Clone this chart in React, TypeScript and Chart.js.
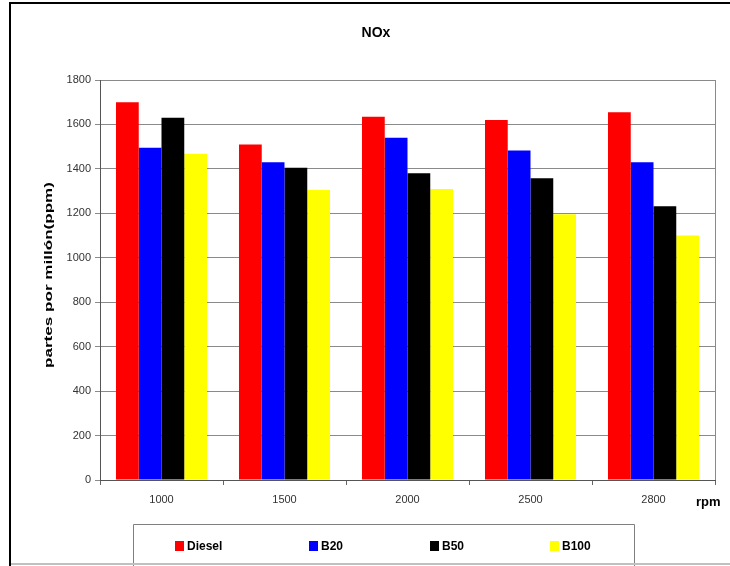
import React, { useEffect, useRef } from "react";
import { Chart, registerables } from "chart.js";

Chart.register(...registerables);

const categories = ["1000", "1500", "2000", "2500", "2800"];
const seriesNames = ["Diesel", "B20", "B50", "B100"];
const diesel = [1700, 1510, 1635, 1620, 1655];
const b20 = [1495, 1430, 1540, 1483, 1430];
const b50 = [1630, 1405, 1380, 1358, 1232];
const b100 = [1468, 1305, 1310, 1196, 1100];
const seriesColors = ["#FF0000", "#0000FF", "#000000", "#FFFF00"];
const yTicksMax = 1800;
const yTickStep = 200;
const chartTitle = "NOx";
const yTitle = "partes por millón(ppm)";
const xTitle = "rpm";

const FONT = "'Liberation Sans', Arial, sans-serif";

const decorPlugin = {
  id: "decor",
  beforeDraw(chart: any) {
    const ctx = chart.ctx;
    ctx.save();
    ctx.fillStyle = "#ffffff";
    ctx.fillRect(0, 0, chart.width, chart.height);
    ctx.restore();
  },
  afterDraw(chart: any) {
    const ctx = chart.ctx;
    const area = chart.chartArea;
    ctx.save();

    // plot right border
    ctx.strokeStyle = "#8a8a8a";
    ctx.lineWidth = 1;
    ctx.beginPath();
    ctx.moveTo(Math.round(area.right) + 0.5, area.top);
    ctx.lineTo(Math.round(area.right) + 0.5, area.bottom);
    ctx.stroke();

    // title
    ctx.fillStyle = "#000";
    ctx.font = `bold 14px ${FONT}`;
    ctx.textAlign = "center";
    ctx.textBaseline = "middle";
    ctx.fillText(chartTitle, 376, 33);

    // y title (stretched)
    ctx.save();
    ctx.font = `bold 11px ${FONT}`;
    const w = ctx.measureText(yTitle).width;
    ctx.translate(49, 275);
    ctx.rotate(-Math.PI / 2);
    ctx.scale(186 / w, 1);
    ctx.textAlign = "center";
    ctx.textBaseline = "middle";
    ctx.fillText(yTitle, 0, 0);
    ctx.restore();

    // x title
    ctx.font = `bold 13px ${FONT}`;
    ctx.textAlign = "left";
    ctx.textBaseline = "middle";
    ctx.fillText(xTitle, 696, 502);

    // legend box
    ctx.strokeStyle = "#808080";
    ctx.lineWidth = 1;
    ctx.beginPath();
    ctx.moveTo(133.5, 566);
    ctx.lineTo(133.5, 524.5);
    ctx.lineTo(634.5, 524.5);
    ctx.lineTo(634.5, 566);
    ctx.stroke();

    const itemX = [175, 309, 430, 550];
    chart.data.datasets.forEach((ds: any, i: number) => {
      ctx.fillStyle = ds.backgroundColor;
      ctx.fillRect(itemX[i], 541, 9, 10);
      ctx.fillStyle = "#000";
      ctx.font = `bold 12px ${FONT}`;
      ctx.textAlign = "left";
      ctx.textBaseline = "middle";
      ctx.fillText(ds.label, itemX[i] + 12, 546.5);
    });

    // frame
    ctx.strokeStyle = "#c0c0c0";
    ctx.lineWidth = 2;
    ctx.beginPath();
    ctx.moveTo(10, 564);
    ctx.lineTo(730, 564);
    ctx.stroke();

    ctx.fillStyle = "#000";
    ctx.fillRect(9, 2, 721, 2);
    ctx.fillRect(9, 2, 2, 564);

    ctx.restore();
  },
};

export default function App() {
  const ref = useRef<HTMLCanvasElement | null>(null);
  useEffect(() => {
    if (!ref.current) return;
    const values = [diesel, b20, b50, b100];
    const chart = new Chart(ref.current, {
      type: "bar",
      data: {
        labels: categories,
        datasets: seriesNames.map((name, i) => ({
          label: name,
          data: values[i],
          backgroundColor: seriesColors[i],
          borderWidth: 0,
          categoryPercentage: 0.74,
          barPercentage: 1.0,
        })),
      },
      options: {
        responsive: false,
        animation: false,
        devicePixelRatio: 1,
        layout: { padding: { left: 0, top: 80, right: 15, bottom: 0 } },
        plugins: {
          legend: { display: false },
          title: { display: false },
          tooltip: { enabled: false },
        },
        scales: {
          x: {
            grid: {
              offset: true,
              drawOnChartArea: false,
              drawTicks: true,
              tickLength: 5,
              color: "#666",
            },
            border: { color: "#555", width: 1 },
            ticks: {
              font: { family: FONT, size: 11 },
              color: "#333",
              padding: 8,
              maxRotation: 0,
            },
            afterFit: (s: any) => {
              s.height = 86;
            },
          },
          y: {
            min: 0,
            max: yTicksMax,
            grid: { color: "#8a8a8a", tickLength: 5 },
            border: { color: "#555", width: 1 },
            ticks: {
              stepSize: yTickStep,
              font: { family: FONT, size: 11 },
              color: "#333",
              padding: 4,
              callback: (v: any) => String(v),
            },
            afterFit: (s: any) => {
              s.width = 100;
            },
          },
        },
      },
      plugins: [decorPlugin],
    });
    return () => chart.destroy();
  }, []);
  return (
    <div style={{ position: "absolute", left: 0, top: 0, width: 730, height: 566 }}>
      <canvas ref={ref} width={730} height={566} style={{ display: "block" }} />
    </div>
  );
}
